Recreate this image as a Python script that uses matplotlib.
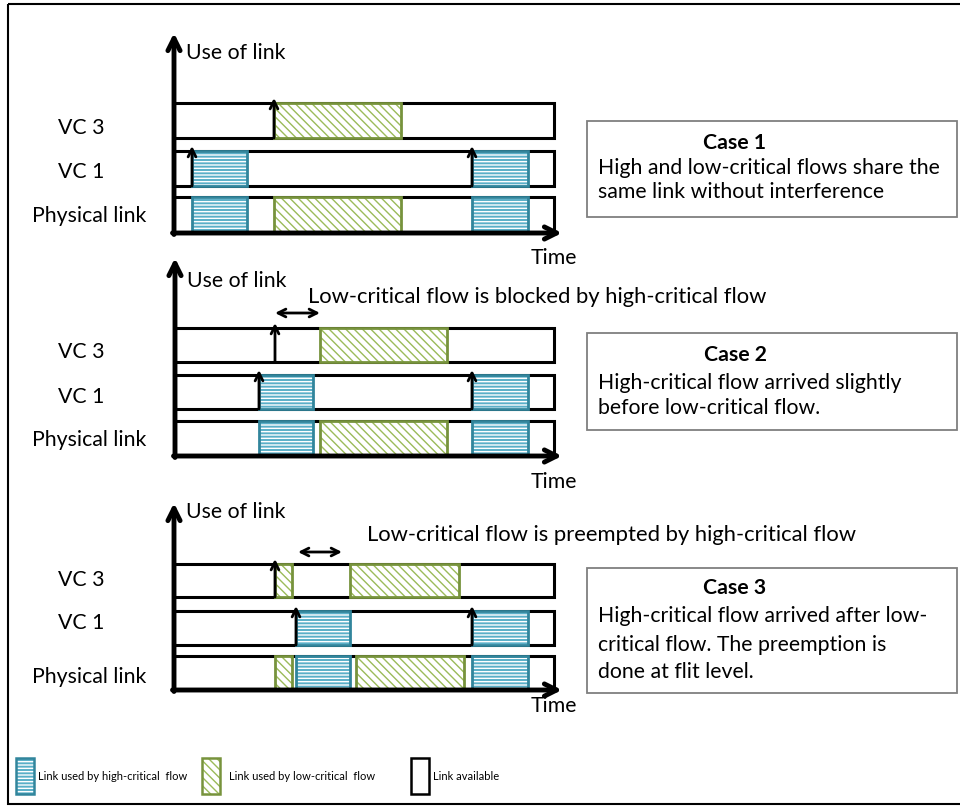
import matplotlib.pyplot as plt
import matplotlib.patches as patches
from matplotlib import font_manager

# ---- data (time positions in the diagram) ----
lane_names = ["VC 3", "VC 1", "Physical link"]

case1_low_vc3 = [(274, 401)]
case1_high_vc1 = [(192, 247), (472, 528)]
case1_low_phys = [(274, 401)]
case1_high_phys = [(192, 247), (472, 528)]
case1_arrive_vc3 = [274]
case1_arrive_vc1 = [192, 472]

case2_low_vc3 = [(320, 447)]
case2_high_vc1 = [(259, 313), (472, 528)]
case2_low_phys = [(320, 447)]
case2_high_phys = [(259, 313), (472, 528)]
case2_arrive_vc3 = [275]
case2_arrive_vc1 = [259, 472]

case3_low_vc3 = [(275, 292), (350, 459)]
case3_high_vc1 = [(296, 350), (472, 528)]
case3_low_phys = [(275, 292), (356, 464)]
case3_high_phys = [(296, 350), (472, 528)]
case3_arrive_vc3 = [275]
case3_arrive_vc1 = [296, 472]

case_titles = ["Case 1", "Case 2", "Case 3"]
case_texts = [
    ["High and low-critical flows share the", "same link without interference"],
    ["High-critical flow arrived slightly", "before low-critical flow."],
    ["High-critical flow arrived after low-", "critical flow. The preemption is", "done at flit level."],
]
notes = [None,
         "Low-critical flow is blocked by high-critical flow",
         "Low-critical flow is preempted by high-critical flow"]
note_gap = [None, (275, 320), (298, 342)]

legend_labels = ["Link used by high-critical  flow", "Link used by low-critical  flow", "Link available"]

# ---- layout ----
BLUE_FACE = '#5aafc8'
BLUE_EDGE = '#31859c'
GREEN_HATCH = '#9bbb59'
GREEN_EDGE = '#77933c'

names = {f.name for f in font_manager.fontManager.ttflist}
main_font = 'Lato' if 'Lato' in names else 'DejaVu Sans'
plt.rcParams['font.family'] = [main_font, 'DejaVu Sans']
plt.rcParams['hatch.linewidth'] = 1.0

FS = 15.3      # labels, case text
FS_NOTE = 15.8
FS_LEG = 8.0

fig = plt.figure(figsize=(9.6, 8.1), dpi=100)
ax = fig.add_axes([0, 0, 1, 1])
ax.set_xlim(0, 960)
ax.set_ylim(810, 0)
ax.axis('off')

# outer frame
ax.add_patch(patches.Rectangle((8, 4), 960, 800, fill=False, edgecolor='black', lw=1.5))


def high_block(x0, x1, top, bot, lw=2.0):
    ax.add_patch(patches.Rectangle((x0, top), x1 - x0, bot - top, facecolor=BLUE_FACE,
                                   edgecolor='white', hatch='-----', lw=0, zorder=3))
    ax.add_patch(patches.Rectangle((x0, top), x1 - x0, bot - top, fill=False,
                                   edgecolor=BLUE_EDGE, lw=lw, zorder=4))


def low_block(x0, x1, top, bot, lw=2.0):
    ax.add_patch(patches.Rectangle((x0, top), x1 - x0, bot - top, facecolor='white',
                                   edgecolor=GREEN_HATCH, hatch='\\\\\\\\', lw=0, zorder=3))
    ax.add_patch(patches.Rectangle((x0, top), x1 - x0, bot - top, fill=False,
                                   edgecolor=GREEN_EDGE, lw=lw, zorder=4))


def arrow(x0, y0, x1, y1, lw, ms, style='->'):
    ax.annotate('', xy=(x1, y1), xytext=(x0, y0),
                arrowprops=dict(arrowstyle=style, lw=lw, color='black',
                                shrinkA=0, shrinkB=0, mutation_scale=ms), zorder=5)


cases = [
    dict(axis_x=174, tip=33, use_y=53, lanes=[(103, 138), (151, 186), (197, 233)],
         label_y=[128, 172, 216], time_y=258,
         low=[case1_low_vc3, [], case1_low_phys], high=[[], case1_high_vc1, case1_high_phys],
         arr=[case1_arrive_vc3, case1_arrive_vc1],
         box=(121, 217), text_y=[143, 168, 192]),
    dict(axis_x=175, tip=258, use_y=281, lanes=[(328, 362), (375, 409), (421, 456)],
         label_y=[352, 397, 440], time_y=482,
         low=[case2_low_vc3, [], case2_low_phys], high=[[], case2_high_vc1, case2_high_phys],
         arr=[case2_arrive_vc3, case2_arrive_vc1],
         box=(333, 430), text_y=[355, 383, 408], note_y=297, note_x=308, gap_y=313),
    dict(axis_x=174, tip=503, use_y=512, lanes=[(564, 597), (611, 645), (656, 690)],
         label_y=[580, 623, 677], time_y=706,
         low=[case3_low_vc3, [], case3_low_phys], high=[[], case3_high_vc1, case3_high_phys],
         arr=[case3_arrive_vc3, case3_arrive_vc1],
         box=(568, 693), text_y=[588, 616, 645, 672], note_y=535, note_x=367, gap_y=552),
]

LANE_RIGHT = 554
for i, c in enumerate(cases):
    axx = c['axis_x']
    # lanes
    for (top, bot), name, ly in zip(c['lanes'], lane_names, c['label_y']):
        ax.add_patch(patches.Rectangle((axx, top), LANE_RIGHT - axx, bot - top, fill=False,
                                       edgecolor='black', lw=2.2, zorder=2))
        ax.text(81 if name != "Physical link" else 89, ly, name, ha='center', va='center', fontsize=FS)
    for k, (top, bot) in enumerate(c['lanes']):
        for x0, x1 in c['low'][k]:
            low_block(x0, x1, top, bot)
        for x0, x1 in c['high'][k]:
            high_block(x0, x1, top, bot)
    # arrival arrows on VC lanes
    for k in range(2):
        top, bot = c['lanes'][k]
        for x in c['arr'][k]:
            arrow(x, bot, x, top - 5, lw=2.0, ms=14)
    # axes
    bottom = c['lanes'][2][1]
    arrow(axx, bottom + 1.5, axx, c['tip'], lw=3.5, ms=22)
    arrow(axx - 1.5, bottom, 562, bottom, lw=3.5, ms=22)
    ax.text(axx + 12, c['use_y'], "Use of link", ha='left', va='center', fontsize=FS)
    ax.text(531, c['time_y'], "Time", ha='left', va='center', fontsize=FS)
    # notes
    if notes[i]:
        ax.text(c['note_x'], c['note_y'], notes[i], ha='left', va='center', fontsize=FS_NOTE)
        g0, g1 = note_gap[i]
        arrow(g0, c['gap_y'], g1, c['gap_y'], lw=2.0, ms=14, style='<->')
    # case box
    b0, b1 = c['box']
    ax.add_patch(patches.Rectangle((587, b0), 370, b1 - b0, fill=False, edgecolor='#7f7f7f', lw=1.3))
    ax.text(735, c['text_y'][0], case_titles[i], ha='center', va='center', fontsize=FS,
            fontweight='bold')
    for line, ty in zip(case_texts[i], c['text_y'][1:]):
        ax.text(598, ty, line, ha='left', va='center', fontsize=FS)

# legend
high_block(16, 34, 758, 794, lw=1.8)
low_block(202, 220, 758, 794, lw=1.8)
ax.add_patch(patches.Rectangle((411, 758), 18, 36, fill=False, edgecolor='black', lw=1.8))
for x, lab in zip([38, 229, 433], legend_labels):
    ax.text(x, 776, lab, ha='left', va='center', fontsize=FS_LEG)

fig.savefig('out.png', dpi=100)
